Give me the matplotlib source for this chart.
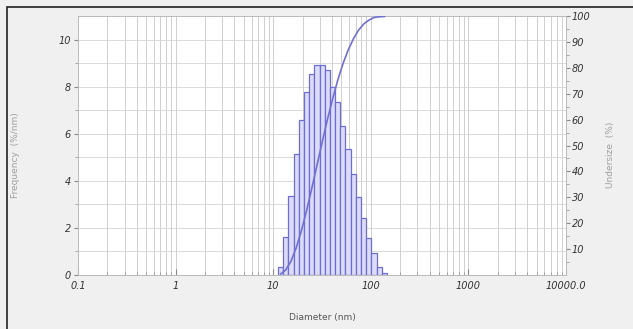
import matplotlib.pyplot as plt
from matplotlib.patches import Rectangle
from matplotlib.ticker import FixedLocator, LogLocator, NullFormatter
import numpy as np

# bin edges (nm)
bin_edges = [11.2, 12.66, 14.31, 16.17, 18.28, 20.66, 23.35, 26.40, 29.84, 33.72, 38.12,
             43.08, 48.70, 55.04, 62.22, 70.32, 79.48, 89.84, 101.55, 114.78, 129.74, 146.6]
# frequency (%) per bin
freq = [0.35, 1.62, 3.36, 5.13, 6.6, 7.77, 8.54, 8.9, 8.9, 8.69, 7.98,
        7.35, 6.31, 5.34, 4.3, 3.32, 2.41, 1.57, 0.93, 0.35, 0.08]
# undersize (%) at bin centres
undersize = [0.4, 2.0, 5.3, 10.5, 17.0, 24.8, 33.4, 42.3, 51.2, 59.9, 67.8,
             75.2, 81.5, 86.8, 91.1, 94.5, 96.9, 98.4, 99.4, 99.7, 99.8]

x_ticks = [0.1, 1, 10, 100, 1000, 10000]
x_ticklabels = ['0.1', '1', '10', '100', '1000', '10000.0']
left_ticks = [0, 2, 4, 6, 8, 10]
right_ticks = [10, 20, 30, 40, 50, 60, 70, 80, 90, 100]

edges = np.array(bin_edges)
centres = np.sqrt(edges[:-1] * edges[1:])

fig = plt.figure(figsize=(6.33, 3.29), dpi=100, facecolor='#f0f0f0')
ax = fig.add_axes([0.1232, 0.1641, 0.771, 0.7873])
ax.set_facecolor('white')

ax.bar(edges[:-1], freq, width=np.diff(edges), align='edge',
       color='#dcdcf8', edgecolor='#6e6ed2', linewidth=0.9, zorder=3)

ax.set_xscale('log')
ax.set_xlim(0.1, 10000)
ax.set_ylim(0, 11)
ax.xaxis.set_major_locator(FixedLocator(x_ticks))
ax.xaxis.set_minor_locator(LogLocator(base=10, subs=np.arange(2, 10)))
ax.xaxis.set_minor_formatter(NullFormatter())
ax.set_xticklabels(x_ticklabels, fontsize=7, style='italic', color='#333333')
ax.set_yticks(left_ticks)
ax.set_yticks(range(1, 11, 2), minor=True)
ax.set_yticklabels([str(v) for v in left_ticks], fontsize=7, style='italic', color='#333333')

ax.grid(True, which='both', axis='x', color='#c8c8c8', linewidth=0.6, zorder=0)
ax.grid(True, which='both', axis='y', color='#d4d4d4', linewidth=0.6, zorder=0)
ax.set_axisbelow(True)
ax.tick_params(axis='x', which='major', direction='in', length=4, color='#888888', pad=4)
ax.tick_params(axis='x', which='minor', direction='in', length=2, color='#999999')
ax.tick_params(axis='y', which='major', length=3, color='#888888', pad=2)
ax.tick_params(axis='y', which='minor', length=2, color='#999999')
for s in ax.spines.values():
    s.set_color('#bbbbbb')
    s.set_linewidth(0.7)

ax2 = ax.twinx()
ax2.plot(centres, undersize, color='#7070d4', linewidth=1.2, zorder=4)
ax2.set_ylim(0, 100)
ax2.set_yticks(right_ticks)
ax2.set_yticks(range(5, 100, 10), minor=True)
ax2.set_yticklabels([str(v) for v in right_ticks], fontsize=7, style='italic', color='#333333')
ax2.tick_params(axis='y', which='major', length=3, color='#888888', pad=1)
ax2.tick_params(axis='y', which='minor', length=2, color='#999999')
for s in ax2.spines.values():
    s.set_color('#bbbbbb')
    s.set_linewidth(0.7)

fig.text(0.024, 0.53, 'Frequency  (%/nm)', rotation=90, ha='center', va='center',
         fontsize=6.5, color='#a0a0a0')
fig.text(0.965, 0.53, 'Undersize  (%)', rotation=90, ha='center', va='center',
         fontsize=6.5, color='#a0a0a0')
fig.text(0.509, 0.02, 'Diameter (nm)', ha='center', va='bottom',
         fontsize=6.5, color='#555555')

# dark frame at left and top of the window
fig.patches.append(Rectangle((7 / 633, -0.1), 1.1, 1.1 - 7 / 329 + 0.0,
                             transform=fig.transFigure, fill=False,
                             edgecolor='#222222', linewidth=1.2))

fig.savefig('out.png', dpi=100, facecolor=fig.get_facecolor())
